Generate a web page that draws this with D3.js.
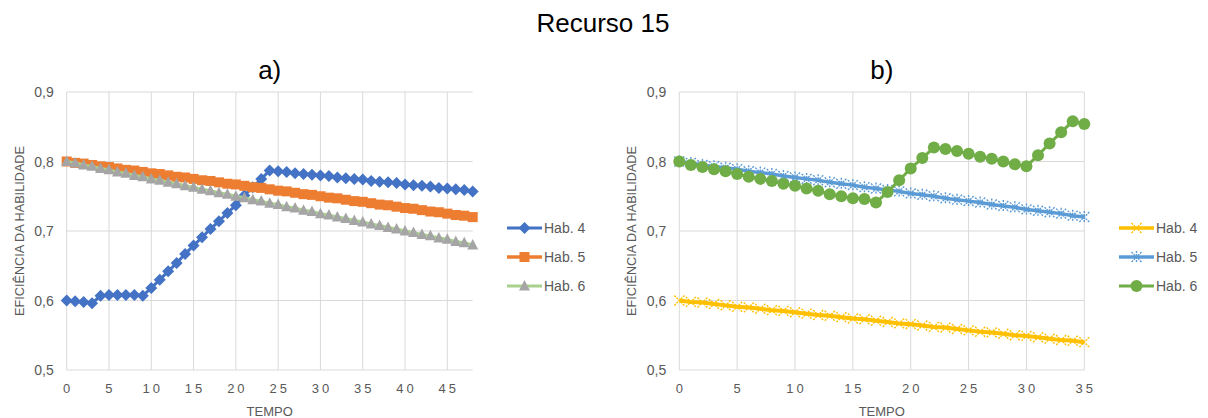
<!DOCTYPE html>
<html>
<head>
<meta charset="utf-8">
<script src="https://cdn.jsdelivr.net/npm/d3@7.9.0/dist/d3.min.js"></script>
<style>
  body { margin: 0; background: #fff; }
  svg { font-family: "Liberation Sans", Arial, sans-serif; }
</style>
</head>
<body>
<svg id="chart" width="1208" height="418"></svg>
<script>
// -------------------------
// Data
// -------------------------
const seriesNames = ['Hab. 4', 'Hab. 5', 'Hab. 6'];
const yTicks = [0.5, 0.6, 0.7, 0.8, 0.9];

// panel a) : tempo 0..48
const tempoA = d3.range(0, 49);
const hab4A = [0.600, 0.599, 0.598, 0.596, 0.607, 0.608, 0.608, 0.608, 0.608, 0.607,
  0.618, 0.630, 0.642, 0.654, 0.667, 0.679, 0.691, 0.703, 0.714, 0.726,
  0.737, 0.751, 0.763, 0.775, 0.787, 0.786, 0.785, 0.783, 0.782, 0.781,
  0.780, 0.779, 0.777, 0.776, 0.775, 0.774, 0.772, 0.771, 0.770, 0.769,
  0.767, 0.766, 0.765, 0.764, 0.762, 0.761, 0.760, 0.759, 0.757];
const hab5A = [0.800, 0.798, 0.797, 0.795, 0.793, 0.792, 0.790, 0.788, 0.787, 0.785,
  0.783, 0.782, 0.780, 0.778, 0.777, 0.775, 0.773, 0.772, 0.770, 0.768,
  0.767, 0.765, 0.763, 0.762, 0.760, 0.758, 0.757, 0.755, 0.753, 0.752,
  0.750, 0.748, 0.747, 0.745, 0.743, 0.742, 0.740, 0.738, 0.737, 0.735,
  0.733, 0.732, 0.730, 0.728, 0.727, 0.725, 0.723, 0.722, 0.720];
const hab6A = [0.800, 0.798, 0.795, 0.793, 0.790, 0.788, 0.785, 0.783, 0.780, 0.778,
  0.775, 0.773, 0.770, 0.768, 0.765, 0.763, 0.760, 0.758, 0.755, 0.753,
  0.750, 0.748, 0.745, 0.743, 0.740, 0.738, 0.735, 0.733, 0.730, 0.728,
  0.725, 0.723, 0.720, 0.718, 0.715, 0.713, 0.710, 0.708, 0.705, 0.703,
  0.700, 0.698, 0.695, 0.693, 0.690, 0.688, 0.685, 0.683, 0.680];

// panel b) : tempo 0..35
const tempoB = d3.range(0, 36);
const hab4B = [0.600, 0.598, 0.597, 0.595, 0.593, 0.591, 0.590, 0.588, 0.586, 0.585,
  0.583, 0.581, 0.579, 0.578, 0.576, 0.574, 0.573, 0.571, 0.569, 0.567,
  0.566, 0.564, 0.562, 0.561, 0.559, 0.557, 0.555, 0.554, 0.552, 0.550,
  0.549, 0.547, 0.545, 0.543, 0.542, 0.540];
const hab5B = [0.800, 0.798, 0.795, 0.793, 0.791, 0.789, 0.786, 0.784, 0.782, 0.779,
  0.777, 0.775, 0.773, 0.770, 0.768, 0.766, 0.763, 0.761, 0.759, 0.757,
  0.754, 0.752, 0.750, 0.747, 0.745, 0.743, 0.741, 0.738, 0.736, 0.734,
  0.731, 0.729, 0.727, 0.725, 0.722, 0.720];
const hab6B = [0.800, 0.795, 0.792, 0.789, 0.786, 0.782, 0.778, 0.775, 0.772, 0.768,
  0.765, 0.761, 0.758, 0.753, 0.750, 0.747, 0.746, 0.741, 0.756, 0.773,
  0.790, 0.805, 0.820, 0.818, 0.815, 0.811, 0.807, 0.804, 0.800, 0.796,
  0.793, 0.809, 0.826, 0.842, 0.858, 0.854];

// -------------------------
// Marker shapes
// -------------------------
const markers = {
  diamond: (g, c) => g.append('path').attr('d', 'M0,-6L6,0L0,6L-6,0Z').attr('fill', c),
  square: (g, c) => g.append('rect').attr('x', -5).attr('y', -5).attr('width', 10).attr('height', 10).attr('fill', c),
  triangle: (g, c) => g.append('path').attr('d', 'M0,-6L5.5,4.5L-5.5,4.5Z').attr('fill', c),
  cross: (g, c) => g.append('path').attr('d', 'M-5,-5L5,5M5,-5L-5,5')
    .attr('stroke', c).attr('stroke-width', 1.4).attr('fill', 'none').attr('stroke-dasharray', '2,1'),
  star: (g, c) => g.append('path').attr('d', 'M-5,-5L5,5M5,-5L-5,5M0,-6L0,6')
    .attr('stroke', c).attr('stroke-width', 1.4).attr('fill', 'none').attr('stroke-dasharray', '2,1'),
  circle: (g, c) => g.append('circle').attr('r', 6).attr('fill', c)
};

const svg = d3.select('#chart');

svg.append('text')
  .attr('x', 603).attr('y', 32)
  .attr('text-anchor', 'middle')
  .attr('font-size', 26).attr('fill', '#000')
  .text('Recurso 15');

// -------------------------
// One panel
// -------------------------
function drawPanel(cfg) {
  const x = d3.scaleLinear().domain([0, cfg.xMax]).range([cfg.left, cfg.right]);
  const y = d3.scaleLinear().domain([0.5, 0.9]).range([370, 92]);
  const g = svg.append('g');

  // panel title
  g.append('text')
    .attr('x', (cfg.left + cfg.right) / 2).attr('y', 79)
    .attr('text-anchor', 'middle').attr('font-size', 26).attr('fill', '#000')
    .text(cfg.title);

  // gridlines
  g.selectAll('.hgrid').data(yTicks).join('line')
    .attr('x1', cfg.left).attr('x2', cfg.right)
    .attr('y1', d => y(d)).attr('y2', d => y(d))
    .attr('stroke', '#d9d9d9').attr('stroke-width', 1);
  g.selectAll('.vgrid').data(cfg.xTicks).join('line')
    .attr('x1', d => x(d)).attr('x2', d => x(d))
    .attr('y1', y(0.9)).attr('y2', y(0.5))
    .attr('stroke', '#d9d9d9').attr('stroke-width', 1);

  // y tick labels
  g.selectAll('.ylab').data(yTicks).join('text')
    .attr('x', cfg.left - 13).attr('y', d => y(d) + 5)
    .attr('text-anchor', 'end').attr('font-size', 14).attr('fill', '#595959')
    .text(d => d3.format('.1f')(d).replace('.', ','));

  // x tick labels
  g.selectAll('.xlab').data(cfg.xTicks).join('text')
    .attr('x', d => x(d) + 1.5).attr('y', 393)
    .attr('text-anchor', 'middle').attr('font-size', 13).attr('fill', '#595959')
    .attr('letter-spacing', 3)
    .text(d => d);

  // axis titles
  g.append('text')
    .attr('x', (cfg.left + cfg.right) / 2).attr('y', 416)
    .attr('text-anchor', 'middle').attr('font-size', 13).attr('fill', '#595959')
    .text('TEMPO');
  g.append('text')
    .attr('transform', `translate(${cfg.left - 43},${y(0.7)}) rotate(-90)`)
    .attr('text-anchor', 'middle').attr('font-size', 12.7).attr('fill', '#595959')
    .text('EFICIÊNCIA DA HABILIDADE');

  // series
  cfg.series.forEach((s, i) => {
    const pts = cfg.tempo.map((t, j) => [t, s.values[j]]);
    g.append('path')
      .datum(pts)
      .attr('d', d3.line().x(d => x(d[0])).y(d => y(d[1])))
      .attr('fill', 'none').attr('stroke', s.line).attr('stroke-width', s.width)
      .attr('stroke-linejoin', 'round');
    pts.forEach(p => {
      const m = g.append('g').attr('transform', `translate(${x(p[0])},${y(p[1])})`);
      markers[s.marker](m, s.color);
    });

    // legend entry
    const ly = 228 + i * 29;
    g.append('line')
      .attr('x1', cfg.legX).attr('x2', cfg.legX + 35)
      .attr('y1', ly).attr('y2', ly)
      .attr('stroke', s.line).attr('stroke-width', Math.min(s.width, 3.5));
    const lm = g.append('g').attr('transform', `translate(${cfg.legX + 17.5},${ly})`);
    markers[s.marker](lm, s.color);
    g.append('text')
      .attr('x', cfg.legX + 37).attr('y', ly + 5)
      .attr('font-size', 14).attr('fill', '#595959')
      .text(seriesNames[i]);
  });
}

drawPanel({
  title: 'a)', left: 66.7, right: 472.7, xMax: 48,
  xTicks: [0, 5, 10, 15, 20, 25, 30, 35, 40, 45],
  tempo: tempoA, legX: 507,
  series: [
    { values: hab4A, color: '#4472c4', line: '#4472c4', width: 3, marker: 'diamond' },
    { values: hab5A, color: '#ed7d31', line: '#ed7d31', width: 6, marker: 'square' },
    { values: hab6A, color: '#a5a5a5', line: '#a9d18e', width: 3, marker: 'triangle' }
  ]
});

drawPanel({
  title: 'b)', left: 679.3, right: 1084.3, xMax: 35,
  xTicks: [0, 5, 10, 15, 20, 25, 30, 35],
  tempo: tempoB, legX: 1119,
  series: [
    { values: hab4B, color: '#ffc000', line: '#ffc000', width: 4, marker: 'cross' },
    { values: hab5B, color: '#5b9bd5', line: '#5b9bd5', width: 3.5, marker: 'star' },
    { values: hab6B, color: '#70ad47', line: '#70ad47', width: 3, marker: 'circle' }
  ]
});
</script>
</body>
</html>
